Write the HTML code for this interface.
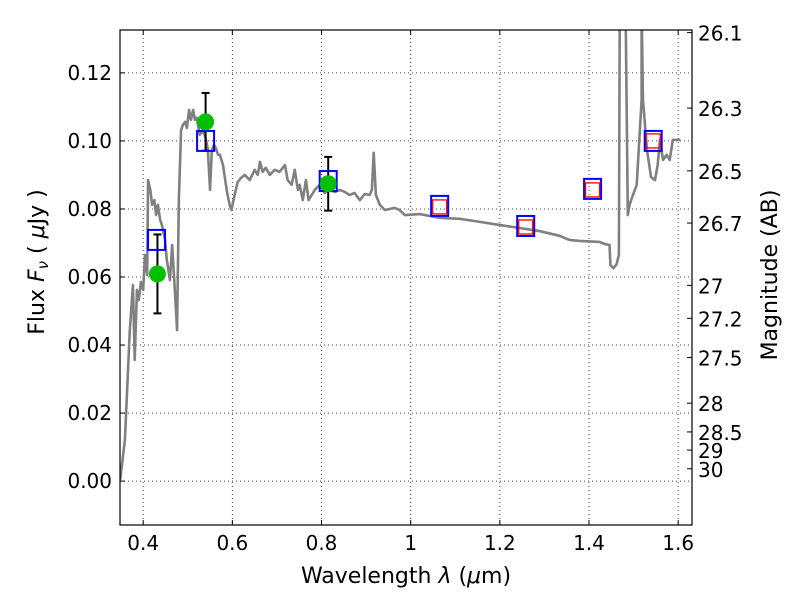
<!DOCTYPE html>
<html><head><meta charset="utf-8"><style>
body{margin:0;background:#fff;font-family:"DejaVu Sans","Liberation Sans",sans-serif}
svg text{font-family:"DejaVu Sans","Liberation Sans",sans-serif}
</style></head><body>
<svg id="c" width="800" height="600" xmlns="http://www.w3.org/2000/svg"></svg>
<script>
const specW=[0.348,0.359,0.370,0.377,0.381,0.386,0.390,0.395,0.400,0.404,0.409,0.411,0.416,0.420,0.425,0.429,0.433,0.438,0.442,0.449,0.453,0.460,0.465,0.471,0.476,0.480,0.485,0.489,0.494,0.498,0.503,0.507,0.512,0.516,0.520,0.527,0.534,0.541,0.545,0.550,0.554,0.559,0.563,0.568,0.572,0.579,0.588,0.594,0.598,0.605,0.612,0.619,0.628,0.639,0.650,0.657,0.662,0.668,0.675,0.684,0.695,0.706,0.718,0.724,0.733,0.740,0.747,0.751,0.758,0.765,0.771,0.778,0.785,0.796,0.807,0.818,0.830,0.841,0.852,0.863,0.874,0.886,0.897,0.908,0.913,0.917,0.922,0.931,0.942,0.964,0.975,0.987,1.020,1.065,1.110,1.155,1.199,1.244,1.289,1.334,1.356,1.379,1.424,1.435,1.446,1.448,1.455,1.462,1.467,1.469,1.473,1.482,1.487,1.491,1.496,1.507,1.518,1.518,1.521,1.530,1.539,1.548,1.554,1.559,1.566,1.574,1.581,1.588,1.605];
const specF=[0.0000,0.0121,0.0444,0.0576,0.0356,0.0562,0.0532,0.0585,0.0562,0.0665,0.0606,0.0885,0.0856,0.0812,0.0826,0.0782,0.0812,0.0768,0.0753,0.0709,0.0650,0.0591,0.0694,0.0562,0.0444,0.0826,0.1032,0.1047,0.1056,0.1038,0.1091,0.1062,0.1091,0.1062,0.1068,0.1018,0.1032,0.1003,0.0974,0.0856,0.0974,0.0988,0.0979,0.0959,0.0959,0.0929,0.0850,0.0812,0.0797,0.0841,0.0879,0.0891,0.0900,0.0885,0.0915,0.0900,0.0938,0.0909,0.0921,0.0900,0.0915,0.0909,0.0929,0.0885,0.0871,0.0915,0.0856,0.0871,0.0826,0.0885,0.0826,0.0841,0.0856,0.0871,0.0847,0.0856,0.0850,0.0856,0.0850,0.0841,0.0847,0.0826,0.0844,0.0841,0.0856,0.0965,0.0841,0.0812,0.0797,0.0803,0.0797,0.0782,0.0785,0.0774,0.0771,0.0762,0.0753,0.0744,0.0735,0.0721,0.0709,0.0706,0.0703,0.0697,0.0694,0.0635,0.0626,0.0638,0.0665,0.1400,0.1400,0.1400,0.0782,0.0812,0.0832,0.0871,0.1121,0.1400,0.1121,0.0974,0.0894,0.0885,0.0929,0.1003,0.0944,0.0959,0.0944,0.1003,0.1003,0.1000];
const obsW=[0.432,0.540,0.815];
const obsF=[0.0609,0.1056,0.0874];
const obsErr=[0.0116,0.0085,0.0079];
const modW=[0.430,0.540,0.815,1.065,1.258,1.408,1.544];
const modF=[0.0709,0.1000,0.0882,0.0809,0.0750,0.0859,0.1000];
const redW=[1.065,1.258,1.408,1.544];
const redF=[0.0806,0.0747,0.0856,0.1000];
const xTicks=[0.4,0.6,0.8,1,1.2,1.4,1.6];
const xLabels=["0.4","0.6","0.8","1","1.2","1.4","1.6"];
const yTicks=[0,0.02,0.04,0.06,0.08,0.10,0.12];
const yLabels=["0.00","0.02","0.04","0.06","0.08","0.10","0.12"];
const magTicks=[26.1,26.3,26.5,26.7,27,27.2,27.5,28,28.5,29,30];
const magLabels=["26.1","26.3","26.5","26.7","27","27.2","27.5","28","28.5","29","30"];

const L=120,R=692,T=30,B=525,X0=0.348,X1=1.631,Y0=-0.0129,Y1=0.1326;
const xs=w=>L+(w-X0)/(X1-X0)*(R-L);
const ys=f=>B-(f-Y0)/(Y1-Y0)*(B-T);
const svg=document.getElementById('c');
const NS='http://www.w3.org/2000/svg';
function mk(tag,at,parent){const e=document.createElementNS(NS,tag);for(const k in at)e.setAttribute(k,at[k]);(parent||svg).appendChild(e);return e;}

const clip=mk('clipPath',{id:'pc'});mk('rect',{x:L,y:T,width:R-L,height:B-T},clip);
const grid=mk('g',{});


xTicks.forEach((t,i)=>{const x=xs(t);
 mk('line',{x1:x,y1:T,x2:x,y2:B,stroke:'#444','stroke-width':1,'stroke-dasharray':'1,3'},grid);
 mk('line',{x1:x,y1:B,x2:x,y2:B-5,stroke:'#000'});mk('line',{x1:x,y1:T,x2:x,y2:T+5,stroke:'#000'});
 const tx=mk('text',{x:x,y:B+25,'text-anchor':'middle','font-size':20});tx.textContent=xLabels[i];
 
 });
yTicks.forEach((t,i)=>{const y=ys(t);
 mk('line',{x1:L,y1:y,x2:R,y2:y,stroke:'#444','stroke-width':1,'stroke-dasharray':'1,3'},grid);
 mk('line',{x1:L,y1:y,x2:L+5,y2:y,stroke:'#000'});
 const tx=mk('text',{x:L-8,y:y+7,'text-anchor':'end','font-size':20});tx.textContent=yLabels[i];
 
 });
magTicks.forEach((m,i)=>{const y=ys(Math.pow(10,(23.9-m)/2.5));
 mk('line',{x1:R,y1:y,x2:R-5,y2:y,stroke:'#000'});
 const tx=mk('text',{x:R+6,y:y+8,'font-size':20});tx.textContent=magLabels[i];
 
 });

const plot=mk('g',{'clip-path':'url(#pc)'});
const sp=mk('polyline',{points:specW.map((w,i)=>xs(w)+','+ys(specF[i])).join(' '),fill:'none',stroke:'#808080','stroke-width':2.6,'stroke-linejoin':'round'},plot);


obsW.forEach((w,i)=>{const x=xs(w),y1=ys(obsF[i]-obsErr[i]),y2=ys(obsF[i]+obsErr[i]);
 const g=mk('g',{},plot);
 
 
 mk('line',{x1:x,y1:y1,x2:x,y2:y2,stroke:'#000','stroke-width':2},g);
 mk('line',{x1:x-4,y1:y1,x2:x+4,y2:y1,stroke:'#000','stroke-width':2},g);
 mk('line',{x1:x-4,y1:y2,x2:x+4,y2:y2,stroke:'#000','stroke-width':2},g);});
modW.forEach((w,i)=>{const r=mk('rect',{x:xs(w)-8.5,y:ys(modF[i])-10,width:17,height:20,fill:'none',stroke:'#0000ff','stroke-width':2},plot);
 
 });
redW.forEach((w,i)=>{const r=mk('rect',{x:xs(w)-7,y:ys(redF[i])-7,width:14,height:14,fill:'none',stroke:'#ff0000','stroke-width':1.3},plot);
 
 });
obsW.forEach((w,i)=>{const c=mk('circle',{cx:xs(w),cy:ys(obsF[i]),r:8.5,fill:'#00bf00'},plot);
 
 });

const fr=mk('rect',{x:L,y:T,width:R-L,height:B-T,fill:'none',stroke:'#000','stroke-width':1.2});


const xt=mk('text',{x:406,y:583,'text-anchor':'middle','font-size':22});
xt.innerHTML='Wavelength  <tspan font-style="italic">λ</tspan> (<tspan font-style="italic">μ</tspan>m)';


const yt=mk('text',{x:0,y:0,'text-anchor':'middle','font-size':22,transform:'translate(44,262) rotate(-90)'});
yt.innerHTML='Flux  <tspan font-style="italic">F</tspan><tspan font-style="italic" font-size="15" dy="4">ν</tspan><tspan dy="-4">  ( </tspan><tspan font-style="italic">μ</tspan>Jy )';


const rt=mk('text',{x:0,y:0,'text-anchor':'middle','font-size':22,transform:'translate(777,275) rotate(-90)'});
rt.textContent='Magnitude (AB)';


</script>
</body></html>
